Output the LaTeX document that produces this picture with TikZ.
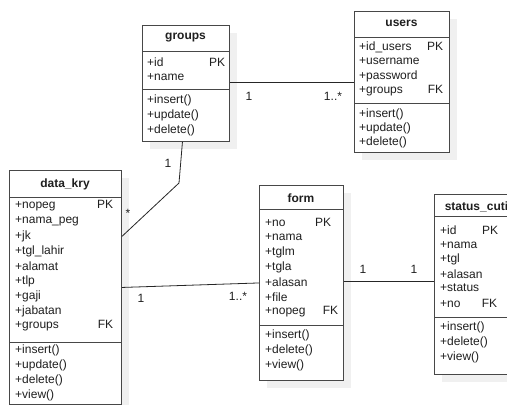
\documentclass[tikz,border=0pt]{standalone}
\usepackage{fontspec}
\setmainfont{Liberation Sans}
\usetikzlibrary{shadows}

\tikzset{
  umlbox/.style={draw=black!72, line width=0.9pt, fill=white, anchor=north west, inner sep=0pt,
    drop shadow={shadow xshift=8pt, shadow yshift=-8pt, fill=black!6, opacity=1}},
  sepline/.style={draw=black!72, line width=0.9pt},
  conn/.style={draw=black!85, line width=0.8pt},
  title/.style={inner sep=0pt, font=\fontsize{12}{14}\selectfont\bfseries, text=black!88},
  row/.style={anchor=west, inner sep=0pt, font=\fontsize{12}{14}\selectfont, text=black!88},
  mult/.style={inner sep=0pt, font=\fontsize{12}{14}\selectfont, text=black!88},
}

\begin{document}
\begin{tikzpicture}[x=1pt, y=-1pt]
\useasboundingbox (0,0) rectangle (507,405);
\clip (0,0) rectangle (507,405);

\node[umlbox, minimum width=87pt, minimum height=116pt] (groups) at (142,25) {};
\node[umlbox, minimum width=95pt, minimum height=141pt] (users) at (354,11) {};
\node[umlbox, minimum width=112pt, minimum height=234pt] (data_kry) at (9,170) {};
\node[umlbox, minimum width=84pt, minimum height=195pt] (form) at (259,185) {};
\node[umlbox, minimum width=85pt, minimum height=180pt] (status_cuti) at (434,194) {};

\draw[sepline] (groups.west |- 0,51) -- (groups.east |- 0,51);
\draw[sepline] (groups.west |- 0,89) -- (groups.east |- 0,89);
\draw[sepline] (users.west |- 0,37) -- (users.east |- 0,37);
\draw[sepline] (users.west |- 0,103) -- (users.east |- 0,103);
\draw[sepline] (data_kry.west |- 0,197) -- (data_kry.east |- 0,197);
\draw[sepline] (data_kry.west |- 0,342) -- (data_kry.east |- 0,342);
\draw[sepline] (form.west |- 0,209) -- (form.east |- 0,209);
\draw[sepline] (form.west |- 0,325) -- (form.east |- 0,325);
\draw[sepline] (status_cuti.west |- 0,216) -- (status_cuti.east |- 0,216);
\draw[sepline] (status_cuti.west |- 0,317) -- (status_cuti.east |- 0,317);

\node[title] (groups-t) at (185.5,38) {groups};
\node[row, text width=78pt] (groups-id) at (147,62) {+id\hfill PK};
\node[row] (groups-name) at (147,77) {+name};
\node[row] (groups-insert) at (147,100) {+insert()};
\node[row] (groups-update) at (147,115) {+update()};
\node[row] (groups-delete) at (147,130) {+delete()};

\node[title] (users-t) at (401.5,23) {users};
\node[row, text width=84pt] (users-id) at (359,47) {+id\_users\hfill PK};
\node[row] (users-username) at (359,61) {+username};
\node[row] (users-password) at (359,76) {+password};
\node[row, text width=84pt] (users-groups) at (359,91) {+groups\hfill FK};
\node[row] (users-insert) at (359,114) {+insert()};
\node[row] (users-update) at (359,128) {+update()};
\node[row] (users-delete) at (359,142) {+delete()};

\node[title] (data_kry-t) at (65,184) {data\_kry};
\node[row, text width=98pt] (data_kry-nopeg) at (15,206) {+nopeg\hfill PK};
\node[row] (data_kry-nama) at (15,221) {+nama\_peg};
\node[row] (data_kry-jk) at (15,236) {+jk};
\node[row] (data_kry-lahir) at (15,251) {+tgl\_lahir};
\node[row] (data_kry-alamat) at (15,266) {+alamat};
\node[row] (data_kry-tlp) at (15,281) {+tlp};
\node[row] (data_kry-gaji) at (15,296) {+gaji};
\node[row] (data_kry-jabatan) at (15,311) {+jabatan};
\node[row, text width=98pt] (data_kry-groups) at (15,326) {+groups\hfill FK};
\node[row] (data_kry-insert) at (15,350) {+insert()};
\node[row] (data_kry-update) at (15,365) {+update()};
\node[row] (data_kry-delete) at (15,380) {+delete()};
\node[row] (data_kry-view) at (15,395) {+view()};

\node[title] (form-t) at (301,198) {form};
\node[row, text width=66pt] (form-no) at (265,222) {+no\hfill PK};
\node[row] (form-nama) at (265,237) {+nama};
\node[row] (form-tglm) at (265,252) {+tglm};
\node[row] (form-tgla) at (265,267) {+tgla};
\node[row] (form-alasan) at (265,282) {+alasan};
\node[row] (form-file) at (265,297) {+file};
\node[row, text width=73pt] (form-nopeg) at (265,312) {+nopeg\hfill FK};
\node[row] (form-insert) at (265,335) {+insert()};
\node[row] (form-delete) at (265,350) {+delete()};
\node[row] (form-view) at (265,365) {+view()};

\node[title] (status_cuti-t) at (476.5,207) {status\_cuti};
\node[row, text width=58pt] (status_cuti-id) at (440,230) {+id\hfill PK};
\node[row] (status_cuti-nama) at (440,245) {+nama};
\node[row] (status_cuti-tgl) at (440,259) {+tgl};
\node[row] (status_cuti-alasan) at (440,274) {+alasan};
\node[row] (status_cuti-status) at (440,288) {+status};
\node[row, text width=57pt] (status_cuti-no) at (440,303) {+no\hfill FK};
\node[row] (status_cuti-insert) at (440,327) {+insert()};
\node[row] (status_cuti-delete) at (440,342) {+delete()};
\node[row] (status_cuti-view) at (440,357) {+view()};

\coordinate (kink) at (179,183);
\draw[conn] (groups.east |- users.west) -- (users.west);
\draw[conn] ([xshift=-3.5pt]groups.south) -- (kink) -- ([yshift=51pt]data_kry.east);
\draw[conn] (data_kry.east) -- (form.west);
\draw[conn] ([yshift=2pt]form.east) -- ([yshift=2pt]form.east -| status_cuti.west);

\node[mult] (m-gu1) at (249,96) {1};
\node[mult] (m-gu2) at (333,96) {1..*};
\node[mult] (m-gd1) at (168,163) {1};
\node[mult] (m-gd2) at (128,213) {*};
\node[mult] (m-df1) at (141,298) {1};
\node[mult] (m-df2) at (238,296) {1..*};
\node[mult] (m-fs1) at (363,269) {1};
\node[mult] (m-fs2) at (414,269) {1};
\end{tikzpicture}
\end{document}
